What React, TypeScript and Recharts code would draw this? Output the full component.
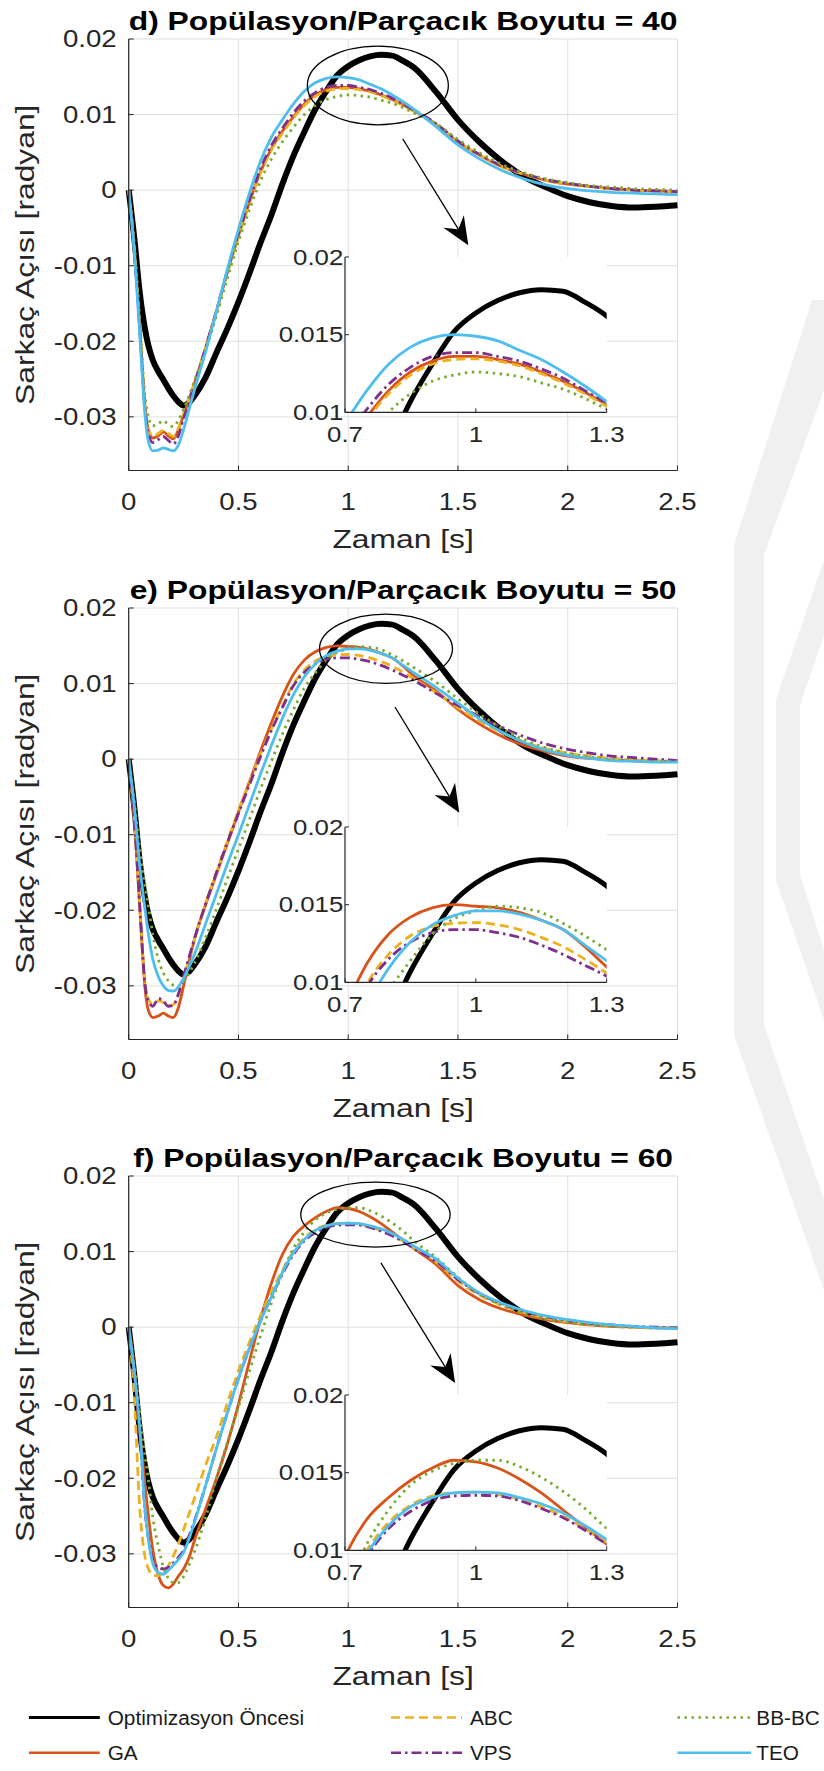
import React from 'react'
import { CartesianGrid, Label, Legend, Line, LineChart, ReferenceDot, ReferenceLine, XAxis, YAxis } from 'recharts'

// simulation time [s]
const time = [
  0, 0.025, 0.05, 0.075,
  0.09, 0.11, 0.135, 0.158, 0.18, 0.203,
  0.225, 0.25, 0.275, 0.3,
  0.35, 0.4, 0.45, 0.5, 0.55, 0.6, 0.65, 0.7,
  0.75, 0.8, 0.85, 0.9, 0.95, 1, 1.05, 1.1, 1.15, 1.2, 1.25, 1.3,
  1.4, 1.5, 1.6, 1.7, 1.8, 1.9, 2, 2.1, 2.2, 2.3, 2.4, 2.5,
]

// response before optimization (same curve in every panel)
const oncesi = [
  0, -0.0062, -0.0135, -0.0185,
  -0.0206, -0.0225, -0.024, -0.0251, -0.0262, -0.0272,
  -0.028, -0.0285, -0.0281, -0.0272,
  -0.0248, -0.0215, -0.0183, -0.0148, -0.011, -0.007, -0.0033, 0.0008,
  0.0045, 0.0077, 0.0107, 0.0131, 0.0152, 0.0164, 0.0172, 0.0177, 0.0179, 0.0178, 0.0171, 0.0162,
  0.013, 0.0093, 0.0063, 0.0038, 0.0018, 0.0004, -0.0008, -0.0016, -0.0021, -0.0023, -0.0022, -0.002,
]

// d) population size 40
const gaD = [
  0, -0.0075, -0.018, -0.029,
  -0.0318, -0.0328, -0.0325, -0.032, -0.0325, -0.0329,
  -0.0318, -0.0298, -0.0277, -0.0255,
  -0.0209, -0.016, -0.0108, -0.006, -0.0016, 0.0024, 0.0055, 0.0078,
  0.0097, 0.0114, 0.0126, 0.0133, 0.0136, 0.0136, 0.0134, 0.0131, 0.0126, 0.012, 0.0113, 0.0105,
  0.0087, 0.0064, 0.0046, 0.0031, 0.0021, 0.0013, 0.0008, 0.0005, 0.0002, 0, -0.0001, -0.0002,
]
const abcD = [
  0, -0.0074, -0.0178, -0.0288,
  -0.0316, -0.0326, -0.0322, -0.0318, -0.0322, -0.0326,
  -0.0316, -0.0296, -0.0276, -0.0255,
  -0.021, -0.0161, -0.011, -0.0062, -0.0018, 0.0022, 0.0053, 0.0075,
  0.0095, 0.0112, 0.0124, 0.0131, 0.0134, 0.01345, 0.0133, 0.013, 0.0125, 0.0119, 0.0112, 0.0104,
  0.0086, 0.0064, 0.0046, 0.0031, 0.0021, 0.0013, 0.0008, 0.0005, 0.0002, 0, -0.0001, -0.0002,
]
const vpsD = [
  0, -0.0076, -0.0182, -0.0292,
  -0.0322, -0.0334, -0.033, -0.0326, -0.0331, -0.0336,
  -0.0326, -0.0302, -0.0279, -0.0256,
  -0.0209, -0.0159, -0.0106, -0.0057, -0.0013, 0.0028, 0.0059, 0.0082,
  0.0102, 0.0118, 0.0129, 0.0136, 0.01385, 0.01385, 0.0136, 0.0133, 0.0128, 0.0122, 0.0114, 0.0106,
  0.0088, 0.0065, 0.0047, 0.0032, 0.0022, 0.0014, 0.0009, 0.0005, 0.0002, 0, -0.0001, -0.0002,
]
const bbbcD = [
  0, -0.007, -0.017, -0.0275,
  -0.03, -0.0312, -0.0309, -0.0305, -0.031, -0.0313,
  -0.0305, -0.029, -0.0272, -0.0252,
  -0.0212, -0.0166, -0.0116, -0.0068, -0.0026, 0.0012, 0.0041, 0.0064,
  0.0083, 0.01, 0.0112, 0.012, 0.0124, 0.0126, 0.0125, 0.0123, 0.0119, 0.0115, 0.0109, 0.0102,
  0.0088, 0.0067, 0.0049, 0.0034, 0.0023, 0.0015, 0.001, 0.0006, 0.0004, 0.0002, 0.0001, 0,
]
const teoD = [
  0, -0.008, -0.019, -0.03,
  -0.0333, -0.0345, -0.0344, -0.0341, -0.0343, -0.0345,
  -0.0338, -0.0317, -0.029, -0.0264,
  -0.0214, -0.016, -0.0104, -0.0052, -0.0004, 0.0038, 0.007, 0.0093,
  0.0114, 0.0131, 0.0142, 0.0148, 0.015, 0.0149, 0.0146, 0.014, 0.0134, 0.0126, 0.0117, 0.0107,
  0.0084, 0.006, 0.0041, 0.0026, 0.0015, 0.0007, 0.0002, -0.0001, -0.0003, -0.0004, -0.0005, -0.0006,
]

// e) population size 50
const gaE = [
  0, -0.0078, -0.0195, -0.0305,
  -0.0333, -0.0342, -0.034, -0.0336, -0.034, -0.0342,
  -0.033, -0.03, -0.0268, -0.0238,
  -0.0193, -0.0152, -0.0111, -0.007, -0.003, 0.001, 0.0048, 0.0083,
  0.0112, 0.0131, 0.0142, 0.0148, 0.015, 0.0149, 0.0148, 0.0145, 0.014, 0.0134, 0.0123, 0.011,
  0.009, 0.0066, 0.0046, 0.003, 0.0018, 0.001, 0.0004, 0.0001, -0.0001, -0.0002, -0.0003, -0.0003,
]
const abcE = [
  0, -0.0077, -0.019, -0.0298,
  -0.0318, -0.0324, -0.032, -0.0322, -0.0326, -0.0325,
  -0.0312, -0.029, -0.0264, -0.0238,
  -0.0191, -0.015, -0.0108, -0.0068, -0.003, 0.0006, 0.004, 0.007,
  0.0099, 0.0118, 0.013, 0.0136, 0.0138, 0.01385, 0.0137, 0.0134, 0.0129, 0.0123, 0.0115, 0.0106,
  0.0088, 0.0068, 0.005, 0.0035, 0.0023, 0.0014, 0.0008, 0.0004, 0.0001, -0.0001, -0.0002, -0.0003,
]
const vpsE = [
  0, -0.0078, -0.0192, -0.03,
  -0.032, -0.0327, -0.0317, -0.032, -0.0327, -0.0326,
  -0.0312, -0.0287, -0.0262, -0.0237,
  -0.0192, -0.015, -0.011, -0.0072, -0.0034, 0.0003, 0.0038, 0.0068,
  0.0097, 0.0115, 0.0126, 0.0132, 0.0134, 0.0134, 0.0132, 0.0129, 0.0124, 0.0118, 0.0111, 0.0104,
  0.0087, 0.0071, 0.0056, 0.0042, 0.003, 0.002, 0.0013, 0.0008, 0.0004, 0.0002, 0, -0.0002,
]
const bbbcE = [
  0, -0.0055, -0.012, -0.0168,
  -0.0195, -0.0232, -0.0265, -0.0283, -0.0293, -0.0299,
  -0.03, -0.0294, -0.0283, -0.027,
  -0.0236, -0.0198, -0.0158, -0.0119, -0.008, -0.004, -0.0003, 0.0033,
  0.0065, 0.0094, 0.0114, 0.0131, 0.0141, 0.0146, 0.0149, 0.0148, 0.0145, 0.0138, 0.013, 0.0121,
  0.0102, 0.008, 0.0059, 0.0041, 0.0026, 0.0015, 0.0008, 0.0003, 0, -0.0002, -0.0003, -0.0003,
]
const teoE = [
  0, -0.006, -0.014, -0.02,
  -0.0232, -0.0265, -0.0288, -0.03, -0.0306, -0.0307,
  -0.0302, -0.029, -0.0275, -0.0258,
  -0.0218, -0.0178, -0.0138, -0.01, -0.006, -0.002, 0.0018, 0.0054,
  0.0085, 0.0109, 0.0126, 0.0137, 0.0143, 0.0146, 0.0146, 0.0144, 0.014, 0.0134, 0.0124, 0.0114,
  0.0095, 0.0074, 0.0053, 0.0036, 0.0022, 0.0012, 0.0005, 0.0001, -0.0002, -0.0003, -0.0004, -0.0004,
]

// f) population size 60
const gaF = [
  0, -0.0055, -0.0135, -0.021,
  -0.025, -0.0295, -0.0328, -0.0342, -0.0345, -0.034,
  -0.033, -0.032, -0.0305, -0.0282,
  -0.0241, -0.02, -0.0154, -0.0102, -0.0045, 0.001, 0.0058, 0.0096,
  0.012, 0.0134, 0.0145, 0.0153, 0.0158, 0.0157, 0.0153, 0.0146, 0.0137, 0.0126, 0.0115, 0.0104,
  0.0083, 0.0055, 0.0036, 0.0024, 0.0016, 0.001, 0.0006, 0.0003, 0.0001, 0, -0.0001, -0.0001,
]
const abcF = [
  0, -0.0088, -0.0238, -0.0305,
  -0.032, -0.0328, -0.0329, -0.0324, -0.0316, -0.0303,
  -0.0288, -0.0268, -0.0247, -0.0226,
  -0.0183, -0.0145, -0.01, -0.0058, -0.002, 0.0015, 0.0047, 0.0075,
  0.01, 0.0118, 0.0129, 0.0135, 0.0137, 0.01375, 0.0136, 0.0133, 0.0128, 0.0122, 0.0114, 0.0105,
  0.0086, 0.0061, 0.0042, 0.0029, 0.0019, 0.0012, 0.0007, 0.0004, 0.0002, 0, -0.0001, -0.0001,
]
const vpsF = [
  0, -0.006, -0.0136, -0.0245,
  -0.028, -0.0308, -0.0318, -0.032, -0.0318, -0.0312,
  -0.0305, -0.0295, -0.0276, -0.0256,
  -0.021, -0.016, -0.0113, -0.0068, -0.0028, 0.0008, 0.004, 0.007,
  0.0096, 0.0114, 0.0125, 0.0132, 0.0135, 0.01355, 0.0135, 0.0132, 0.0127, 0.0121, 0.0113, 0.0104,
  0.0087, 0.0063, 0.0044, 0.0031, 0.0021, 0.0014, 0.0009, 0.0005, 0.0003, 0.0001, 0, -0.0001,
]
const bbbcF = [
  0, -0.005, -0.0113, -0.0172,
  -0.0203, -0.0252, -0.029, -0.0318, -0.0332, -0.0338,
  -0.0338, -0.033, -0.0315, -0.0297,
  -0.0253, -0.02, -0.0152, -0.0106, -0.0058, -0.0012, 0.0032, 0.0072,
  0.0104, 0.0126, 0.0142, 0.0151, 0.0156, 0.0158, 0.0158, 0.0154, 0.0147, 0.0138, 0.0127, 0.0114,
  0.0092, 0.0066, 0.0044, 0.0029, 0.0018, 0.0011, 0.0006, 0.0003, 0.0001, 0, -0.0001, -0.0001,
]
const teoF = [
  0, -0.0058, -0.0132, -0.0244,
  -0.0282, -0.0313, -0.0325, -0.0327, -0.0322, -0.0315,
  -0.0308, -0.0298, -0.028, -0.0258,
  -0.021, -0.016, -0.0113, -0.0068, -0.0028, 0.0008, 0.004, 0.0072,
  0.0098, 0.0116, 0.0128, 0.0134, 0.0137, 0.01375, 0.0137, 0.0134, 0.013, 0.0124, 0.0116, 0.0107,
  0.009, 0.0065, 0.0045, 0.0032, 0.0022, 0.0015, 0.001, 0.0006, 0.0003, 0.0001, -0.0001, -0.0002,
]

const xTicks = [0, 0.5, 1, 1.5, 2, 2.5]
const yTicks = [-0.03, -0.02, -0.01, 0, 0.01, 0.02]
const insetXTicks = [0.7, 1, 1.3]
const insetYTicks = [0.01, 0.015, 0.02]
const titles = [
  'd) Popülasyon/Parçacık Boyutu = 40',
  'e) Popülasyon/Parçacık Boyutu = 50',
  'f) Popülasyon/Parçacık Boyutu = 60',
]
// zoom ellipse centre and arrow (start, tip) in data units
const zoomCentres = [[1.135, 0.01385], [1.172, 0.0146], [1.124, 0.0149]]
const arrowStarts = [[1.248, 0.0068], [1.213, 0.0069], [1.149, 0.0085]]
const arrowTips = [[1.547, -0.0073], [1.506, -0.0071], [1.487, -0.0074]]

const SERIES = [
  { key: 'oncesi', name: 'Optimizasyon Öncesi', color: '#000000', width: 6, dash: undefined },
  { key: 'ga', name: 'GA', color: '#D95319', width: 2.8, dash: undefined },
  { key: 'abc', name: 'ABC', color: '#EDB120', width: 2.8, dash: '9 5' },
  { key: 'vps', name: 'VPS', color: '#7E2F8E', width: 2.8, dash: '10 4 2.5 4' },
  { key: 'bbbc', name: 'BB-BC', color: '#77AC30', width: 2.8, dash: '2.5 4.5' },
  { key: 'teo', name: 'TEO', color: '#4DBEEE', width: 2.8, dash: undefined },
]

const panelSeries = [
  { ga: gaD, abc: abcD, vps: vpsD, bbbc: bbbcD, teo: teoD },
  { ga: gaE, abc: abcE, vps: vpsE, bbbc: bbbcE, teo: teoE },
  { ga: gaF, abc: abcF, vps: vpsF, bbbc: bbbcF, teo: teoF },
]

const FONT = '"Liberation Sans", Arial, Helvetica, sans-serif'
const INK = '#262626'
const STRETCH = 1.2
const PLOT_TOPS = [38.5, 608, 1176]
const PLOT_LEFT = 128.7
const PLOT_W = 548.8
const PLOT_H = 431.5
const INSET_LEFT = 345
const INSET_W = 261.7
const INSET_H = 155.4
const INSET_DROP = 218.8
const ELLIPSES = [[70.5, 39.3], [66.5, 34.6], [74.7, 32.5]]

function Txt({ x, y, size, anchor = 'middle', weight = 400, rotate = 0, sx = STRETCH, fill = INK, children }: any) {
  return (
    <g transform={`translate(${x},${y}) rotate(${rotate}) scale(${sx},1)`}>
      <text x={0} y={0} textAnchor={anchor} fontSize={size} fontFamily={FONT} fontWeight={weight} fill={fill}>
        {children}
      </text>
    </g>
  )
}

function BottomTick({ x, y, payload, len, size, dy }: any) {
  return (
    <g>
      <line x1={x} y1={y} x2={x} y2={y - len} stroke={INK} strokeWidth={1} />
      <Txt x={x} y={y + dy} size={size}>{String(payload.value)}</Txt>
    </g>
  )
}
function TopTick({ x, y, len }: any) {
  return <line x1={x} y1={y} x2={x} y2={y + len} stroke={INK} strokeWidth={1} />
}
function LeftTick({ x, y, payload, len, size, dx }: any) {
  return (
    <g>
      <line x1={x} y1={y} x2={x + len} y2={y} stroke={INK} strokeWidth={1} />
      <Txt x={x - dx} y={y + size * 0.358} size={size} anchor="end">{String(payload.value)}</Txt>
    </g>
  )
}
function RightTick({ x, y, len }: any) {
  return <line x1={x} y1={y} x2={x - len} y2={y} stroke={INK} strokeWidth={1} />
}

function ArrowShape({ x1, y1, x2, y2 }: any) {
  const dx = x2 - x1
  const dy = y2 - y1
  const len = Math.hypot(dx, dy) || 1
  const ux = dx / len
  const uy = dy / len
  const nx = -uy
  const ny = ux
  const L = 28
  const W = 12
  const notch = 9
  const bx = x2 - ux * L
  const by = y2 - uy * L
  const mx = x2 - ux * (L - notch)
  const my = y2 - uy * (L - notch)
  const pts = [
    [x2, y2],
    [bx + nx * W, by + ny * W],
    [mx, my],
    [bx - nx * W, by - ny * W],
  ]
  return (
    <g>
      <line x1={x1} y1={y1} x2={mx} y2={my} stroke="#000" strokeWidth={1.3} />
      <polygon points={pts.map((p) => p.join(',')).join(' ')} fill="#000" />
    </g>
  )
}

function LegendBox() {
  const cols = [
    { l1: 28.9, l2: 99.8, tx: 107.7 },
    { l1: 391, l2: 462, tx: 470 },
    { l1: 677.5, l2: 751, tx: 756.3 },
  ]
  const rows = [16.5, 51.8]
  return (
    <svg width={824} height={70} style={{ display: 'block' }}>
      {SERIES.map((s, i) => {
        const c = cols[Math.floor(i / 2)]
        const y = rows[i % 2]
        return (
          <g key={s.key}>
            <line x1={c.l1} y1={y} x2={c.l2} y2={y} stroke={s.color} strokeWidth={s.key === 'oncesi' ? 3 : 2.5} strokeDasharray={s.dash} />
            <Txt x={c.tx} y={y + 7.2} size={20} sx={1.04} anchor="start" fill="#1a1a1a">{s.name}</Txt>
          </g>
        )
      })}
    </svg>
  )
}

// faint thesis watermark on the right-hand margin
function Watermark() {
  const fill = '#f0f0f0'
  return (
    <svg width={824} height={1771} style={{ position: 'absolute', left: 0, top: 0 }}>
      <polygon points="824,300 812,300 734,545 734,1035 824,1290 824,1200 764,1025 764,555 824,390" fill={fill} />
      <polygon points="824,560 776,700 776,880 824,1020 824,950 800,875 800,705 824,635" fill={fill} />
    </svg>
  )
}

function seriesLines(black: number) {
  return SERIES.map((s) => (
    <Line
      key={s.key}
      dataKey={s.key}
      type="monotone"
      stroke={s.color}
      strokeWidth={s.key === 'oncesi' ? black : s.width}
      strokeDasharray={s.dash}
      dot={false}
      activeDot={false}
      isAnimationActive={false}
    />
  ))
}

function Panel({ index }: { index: number }) {
  const ps = panelSeries[index]
  const rows = time.map((t, j) => ({
    t,
    oncesi: oncesi[j],
    ga: ps.ga[j],
    abc: ps.abc[j],
    vps: ps.vps[j],
    bbbc: ps.bbbc[j],
    teo: ps.teo[j],
  }))
  const plotTop = PLOT_TOPS[index]
  const top = plotTop - 40
  const height = index === 2 ? 1771 - top : 571.5
  const insetTop = plotTop + INSET_DROP
  const [ex, ey] = zoomCentres[index]
  const [rx, ry] = ELLIPSES[index]
  const axisLine = { stroke: INK, strokeWidth: 1.2 }
  const yDomain = [-0.0371, 0.02]

  return (
    <>
      <div style={{ position: 'absolute', left: 0, top }}>
        <LineChart
          width={824}
          height={height}
          data={rows}
          margin={{ top: 40, right: 824 - PLOT_LEFT - PLOT_W, bottom: height - 40 - PLOT_H - 100, left: 0 }}
        >
          <CartesianGrid stroke="#dfdfdf" strokeWidth={1} />
          <XAxis
            dataKey="t"
            type="number"
            domain={[0, 2.5]}
            ticks={xTicks}
            interval={0}
            height={100}
            tickSize={0}
            tickMargin={0}
            tickLine={false}
            axisLine={axisLine}
            tick={(p: any) => <BottomTick {...p} len={5} size={23} dy={39.5} />}
          >
            <Label content={() => <Txt x={PLOT_LEFT + PLOT_W / 2} y={40 + PLOT_H + 77} size={26.5}>Zaman [s]</Txt>} />
          </XAxis>
          <XAxis
            xAxisId="top"
            orientation="top"
            dataKey="t"
            type="number"
            domain={[0, 2.5]}
            ticks={xTicks}
            interval={0}
            height={0}
            tickSize={0}
            tickMargin={0}
            tickLine={false}
            axisLine={axisLine}
            tick={(p: any) => <TopTick {...p} len={5} />}
          />
          <YAxis
            type="number"
            domain={yDomain}
            ticks={yTicks}
            interval={0}
            width={PLOT_LEFT}
            tickSize={0}
            tickMargin={0}
            tickLine={false}
            axisLine={axisLine}
            tick={(p: any) => <LeftTick {...p} len={5} size={23} dx={12} />}
          >
            <Label
              content={() => (
                <g>
                  <Txt x={34} y={40 + PLOT_H / 2} size={26.5} rotate={-90}>
                    Sarkaç Açısı [radyan]
                  </Txt>
                  <Txt x={PLOT_LEFT + PLOT_W / 2} y={31} size={26.5} weight={700} fill="#000">
                    {titles[index]}
                  </Txt>
                </g>
              )}
            />
          </YAxis>
          <YAxis
            yAxisId="right"
            orientation="right"
            type="number"
            domain={yDomain}
            ticks={yTicks}
            interval={0}
            width={0}
            tickSize={0}
            tickMargin={0}
            tickLine={false}
            axisLine={axisLine}
            tick={(p: any) => <RightTick {...p} len={5} />}
          />
          {seriesLines(6)}
          <ReferenceDot
            x={ex}
            y={ey}
            r={1}
            shape={(p: any) => <ellipse cx={p.cx} cy={p.cy} rx={rx} ry={ry} fill="none" stroke="#000" strokeWidth={1.3} />}
          />
          <ReferenceLine
            segment={[
              { x: arrowStarts[index][0], y: arrowStarts[index][1] },
              { x: arrowTips[index][0], y: arrowTips[index][1] },
            ]}
            shape={(p: any) => <ArrowShape {...p} />}
          />
          {index === 2 ? (
            <Legend
              layout="vertical"
              align="center"
              verticalAlign="middle"
              wrapperStyle={{ left: 0, top: 565, width: 824, height: 70 }}
              content={() => <LegendBox />}
            />
          ) : null}
        </LineChart>
      </div>
      <div
        style={{ position: 'absolute', left: INSET_LEFT, top: insetTop, width: INSET_W, height: INSET_H, background: '#fff' }}
      />
      <div style={{ position: 'absolute', left: INSET_LEFT - 80, top: insetTop - 10 }}>
        <LineChart
          width={80 + INSET_W + 20}
          height={10 + INSET_H + 50}
          data={rows}
          margin={{ top: 10, right: 20, bottom: 0, left: 0 }}
        >
          <XAxis
            dataKey="t"
            type="number"
            domain={[0.7, 1.3]}
            allowDataOverflow
            ticks={insetXTicks}
            interval={0}
            height={50}
            tickSize={0}
            tickMargin={0}
            tickLine={false}
            axisLine={axisLine}
            tick={(p: any) => <BottomTick {...p} len={4} size={21.5} dy={29.7} />}
          />
          <XAxis
            xAxisId="top"
            orientation="top"
            dataKey="t"
            type="number"
            domain={[0.7, 1.3]}
            allowDataOverflow
            ticks={insetXTicks}
            interval={0}
            height={0}
            tickSize={0}
            tickMargin={0}
            tickLine={false}
            axisLine={axisLine}
            tick={(p: any) => <TopTick {...p} len={4} />}
          />
          <YAxis
            type="number"
            domain={[0.01, 0.02]}
            allowDataOverflow
            ticks={insetYTicks}
            interval={0}
            width={80}
            tickSize={0}
            tickMargin={0}
            tickLine={false}
            axisLine={axisLine}
            tick={(p: any) => <LeftTick {...p} len={4} size={21.5} dx={1.7} />}
          />
          <YAxis
            yAxisId="right"
            orientation="right"
            type="number"
            domain={[0.01, 0.02]}
            allowDataOverflow
            ticks={insetYTicks}
            interval={0}
            width={0}
            tickSize={0}
            tickMargin={0}
            tickLine={false}
            axisLine={axisLine}
            tick={(p: any) => <RightTick {...p} len={4} />}
          />
          {seriesLines(5)}
        </LineChart>
      </div>
    </>
  )
}

export default function App() {
  return (
    <div
      style={{ position: 'absolute', left: 0, top: 0, width: 824, height: 1771, background: '#fff', overflow: 'hidden' }}
    >
      <Watermark />
      {[0, 1, 2].map((i) => (
        <Panel key={i} index={i} />
      ))}
    </div>
  )
}
